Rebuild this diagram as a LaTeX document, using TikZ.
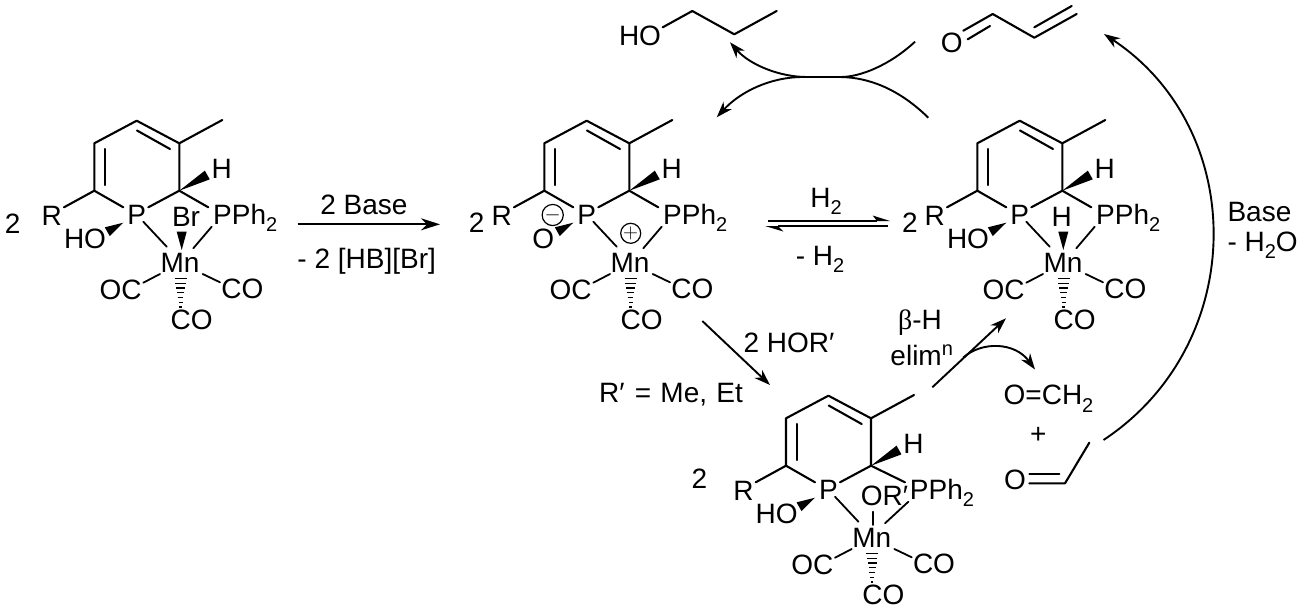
\documentclass[tikz,border=0pt]{standalone}
\usepackage{fontspec}
\setmainfont{Liberation Sans}
\newfontfamily\greekfont{Liberation Serif}
\usetikzlibrary{arrows.meta,calc}
\newcommand\subtwo{\raisebox{-7.5pt}{\fontsize{20}{22}\selectfont 2}}
\newcommand\wedgebond[2]{\fill (#1) -- ($(#2)!5pt!90:(#1)$) -- ($(#2)!5pt!-90:(#1)$) -- cycle;}
\tikzset{
  lbl/.style={inner sep=0pt,anchor=base,font=\fontsize{28}{32}\selectfont},
  lblw/.style={inner sep=0pt,anchor=base west,font=\fontsize{28}{32}\selectfont},
  bond/.style={line width=2.1pt,line cap=round,line join=round},
  thinb/.style={line width=1.8pt,line cap=round},
  arr/.style={line width=2pt,-{Stealth[length=19pt,width=12pt,inset=6pt]}},
  arrs/.style={line width=1.9pt,-{Stealth[length=16pt,width=11pt,inset=5pt]}},
  chg/.style={circle,draw,line width=1.2pt,minimum size=20pt,inner sep=0pt,font=\fontsize{21}{21}\selectfont}
}
% #1 prefix, #2 dx, #3 dy, #4 shift of the PPh2 group, #5 OH group text, #6 x of that text
\newcommand\mncomplex[6]{
\begin{scope}[shift={(#2,#3)}]
  \coordinate (#1a) at (94.3,143.3);
  \coordinate (#1b) at (136.7,120.7);
  \coordinate (#1c) at (179.3,143.3);
  \coordinate (#1d) at (179.3,190.7);
  \coordinate (#1f) at (94.3,190.7);
  \coordinate (#1me) at (222.3,120);
  \coordinate (#1ia) at (105,149);
  \coordinate (#1ib) at (105,185);
  \coordinate (#1ic) at (137,130.5);
  \coordinate (#1id) at (170,149);
  \coordinate (#1pl) at (123.3,207.3);
  \coordinate (#1pr) at (148.3,207.3);
  \coordinate (#1pmn) at (143.3,221.7);
  \coordinate (#1mnl) at (166.7,246.7);
  \coordinate (#1ppl) at ({208.3+#4},207.3);
  \coordinate (#1ppm) at ({211.7+#4},226.7);
  \coordinate (#1mnr) at (193.3,248.3);
  \coordinate (#1rb) at (64,207.3);
  \coordinate (#1ocm) at (160,274);
  \coordinate (#1oce) at (143.3,282.7);
  \coordinate (#1com) at (202.7,274);
  \coordinate (#1coe) at (220,282.3);
  \coordinate (#1hs) at (180.5,278.5);
  \coordinate (#1he) at (180.5,307);
  \coordinate (#1hwa) at (179.3,190.7);
  \coordinate (#1hwb) at (207.3,175);
  \coordinate (#1owa) at (123.3,222.7);
  \coordinate (#1owb) at (107.3,231.7);
  \node[lbl] (#1P) at (136.7,224) {P};
  \node[lbl] (#1R) at (51.7,225) {R};
  \node[lbl] (#1O) at (#6,248) {#5};
  \node[lbl] (#1H) at (221.7,178) {H};
  \node[lblw] (#1PP) at ({213+#4},224) {PPh\subtwo};
  \node[lbl] (#1Mn) at (180,272) {Mn};
  \node[lbl] (#1OC) at (120.7,299) {OC};
  \node[lbl] (#1CO) at (242.3,298.5) {CO};
  \node[lbl] (#1COb) at (191.7,329.5) {CO};
  \draw[bond] (#1pl) -- (#1f) -- (#1a) -- (#1b) -- (#1c) -- (#1d) -- (#1pr);
  \draw[bond] (#1c) -- (#1me);
  \draw[bond] (#1ia) -- (#1ib);
  \draw[bond] (#1ic) -- (#1id);
  \draw[bond] (#1d) -- (#1ppl);
  \draw[bond] (#1f) -- (#1rb);
  \draw[thinb] (#1pmn) -- (#1mnl);
  \draw[thinb] (#1ppm) -- (#1mnr);
  \draw[thinb] (#1ocm) -- (#1oce);
  \draw[thinb] (#1com) -- (#1coe);
  \wedgebond{#1hwa}{#1hwb}
  \wedgebond{#1owa}{#1owb}
  \foreach \t/\w in {0/6,0.167/5.2,0.333/4.4,0.5/3.6,0.667/2.8,0.833/2,1/1.2}
    \draw[line width=1.4pt] ($(#1hs)!\t!(#1he)+(-\w,0)$) -- ($(#1hs)!\t!(#1he)+(\w,0)$);
\end{scope}
}
\begin{document}
\begin{tikzpicture}[x=1pt,y=-1pt]
\useasboundingbox (0,0) rectangle (1301,611);

% complexes
\mncomplex{m1}{0}{0}{0}{HO}{85}
\mncomplex{m2}{450}{0}{0}{O}{93.3}
\mncomplex{m3}{883}{0}{0}{HO}{85}
\mncomplex{m4}{691.7}{275}{5}{HO}{85}

% apical ligands
\node[lbl] (brl) at (186,226) {Br};
\coordinate (brb) at (181.7,231.7);
\coordinate (brt) at (181.7,250);
\wedgebond{brt}{brb}
\node[lbl] (hl) at (1061.7,226) {H};
\coordinate (hb) at (1063.3,231.7);
\coordinate (ht) at (1063.3,250);
\wedgebond{ht}{hb}
\node[lbl] (orl) at (884.5,505.5) {OR′};
\coordinate (ora) at (872.7,511.7);
\coordinate (orb) at (872.7,525);
\draw[thinb] (ora) -- (orb);

% charges
\node[chg] (minus) at (552.7,215) {$-$};
\node[chg] (plus) at (630.7,233.3) {$+$};

% stoichiometric numbers
\node[lbl] (n1) at (12.7,233.5) {2};
\node[lbl] (n2) at (476.7,232.5) {2};
\node[lbl] (n3) at (910,232.5) {2};
\node[lbl] (n4) at (699.3,488.5) {2};

% first arrow
\coordinate (a1s) at (297.7,224.3);
\coordinate (a1e) at (440,224.3);
\draw[arr] (a1s) -- (a1e);
\node[lbl] (a1t) at (364,214) {2 Base};
\node[lbl] (a1b) at (366.7,268) {- 2 [HB][Br]};

% equilibrium
\coordinate (eqa) at (768.3,221);
\coordinate (eqb) at (890,221);
\coordinate (eqbn) at (877,221);
\coordinate (eqbb) at (872.7,215.5);
\coordinate (eqc) at (887.7,226);
\coordinate (eqd) at (765,226);
\coordinate (eqdn) at (778,226);
\coordinate (eqdb) at (783.3,231.5);
\draw[line width=2pt] (eqa) -- (eqbn);
\fill (eqb) -- (eqbb) -- (eqbn) -- cycle;
\draw[line width=2pt] (eqc) -- (eqdn);
\fill (eqd) -- (eqdb) -- (eqdn) -- cycle;
\node[lbl] (eqt) at (826,207) {H\subtwo};
\node[lbl] (eqbt) at (820,265) {- H\subtwo};

% diagonal arrow to the lower complex
\coordinate (d1s) at (702.3,321);
\coordinate (d1e) at (770,385);
\draw[arrs] (d1s) -- (d1e);
\node[lbl] (d1t) at (789,352) {2 HOR′};
\node[lbl] (d1b) at (671,402) {R′\hspace{2.5pt} = \hspace{1.5pt}Me, \hspace{1.5pt}Et};

% beta-H elimination
\coordinate (d2s) at (932.3,387.3);
\coordinate (d2e) at (1006,318.3);
\draw[arrs] (d2s) -- (d2e);
\node[lbl] (bt) at (920,329.5) {{\greekfont β}-H};
\node[lbl] (el) at (921.7,365.5) {elim\raisebox{10pt}{\fontsize{20}{22}\selectfont n}};
\coordinate (cvs) at (963.3,357.5);
\coordinate (cve) at (1035,369.5);
\draw[arrs] (cvs) .. controls (982,341) and (1015,342) .. (cve);

% formaldehyde, plus, acetaldehyde fragment
\node[lbl] (form) at (1048.5,404.5) {O=CH\subtwo};
\node[lbl] (pl) at (1038.3,443.5) {+};
\node[lbl] (oa) at (1015,489) {O};
\coordinate (ca) at (1029.3,474.3);
\coordinate (cb) at (1059.3,474.3);
\coordinate (cc) at (1029.3,483.3);
\coordinate (cd) at (1065,483.3);
\coordinate (ce) at (1089.3,442.7);
\draw[bond] (ca) -- (cb);
\draw[bond] (cc) -- (cd) -- (ce);

% propanol
\node[lbl] (ho) at (640,45) {HO};
\coordinate (pa) at (662.7,27.3);
\coordinate (pb) at (692.3,11);
\coordinate (pc) at (734.3,34.3);
\coordinate (pd) at (776.7,11);
\draw[bond] (pa) -- (pb) -- (pc) -- (pd);

% acrolein
\node[lbl] (oac) at (951.7,52.5) {O};
\coordinate (ra) at (963.3,30.7);
\coordinate (rb) at (992.7,14);
\coordinate (rc) at (967.7,39.3);
\coordinate (rd) at (990,26);
\coordinate (re) at (1034.3,37.7);
\coordinate (rf) at (1076.7,14);
\coordinate (rg) at (1034.3,27.3);
\coordinate (rh) at (1071.7,6);
\draw[bond] (ra) -- (rb) -- (re) -- (rf);
\draw[bond] (rc) -- (rd);
\draw[bond] (rg) -- (rh);

% crossing curved arrows
\coordinate (xa) at (915,41.7);
\coordinate (xb) at (730,42.3);
\coordinate (xc) at (928.3,117.7);
\coordinate (xd) at (716.7,117.3);
\draw[arrs] (xa) .. controls (890,65) and (860,77.3) .. (840,77) -- (806.7,77) .. controls (780,77) and (750,65) .. (xb);
\draw[arrs] (xc) .. controls (900,90) and (870,77.3) .. (840,77) -- (803,77) .. controls (770,77) and (740,92) .. (xd);

% large arc
\coordinate (ls) at (1103.5,440);
\coordinate (le) at (1104,34);
\draw[arrs] (ls) .. controls (1248.6,344) and (1249,130) .. (le);
\node[lblw] (bs) at (1227.3,221) {Base};
\node[lblw] (bw) at (1227.3,251) {- H\subtwo O};
\end{tikzpicture}
\end{document}
